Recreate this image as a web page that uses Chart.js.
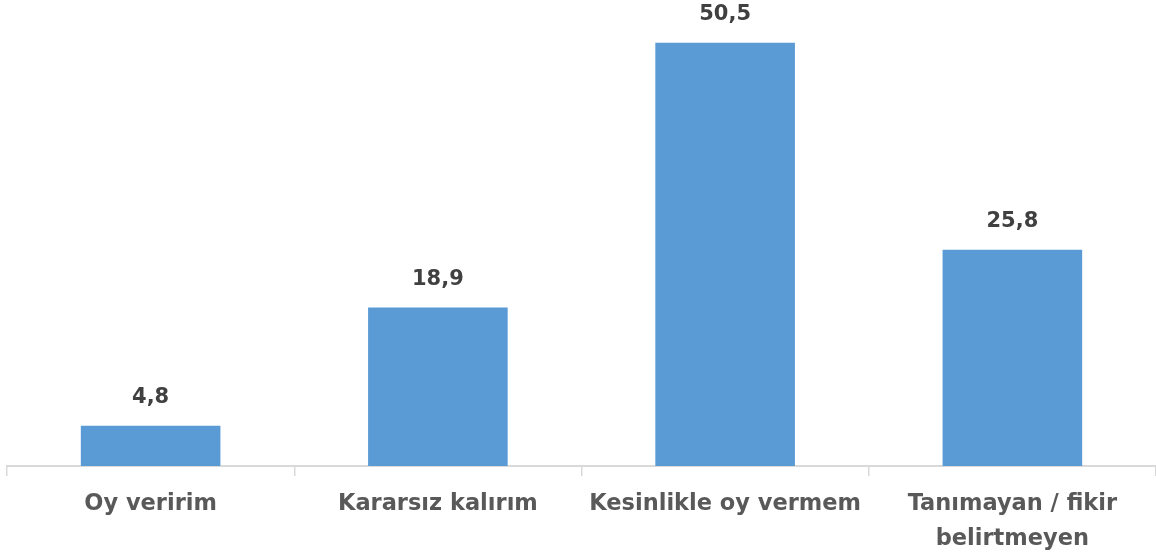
<!DOCTYPE html>
<html>
<head>
<meta charset="utf-8">
<script src="https://cdn.jsdelivr.net/npm/chart.js@4"></script>
<style>
  html, body { margin: 0; padding: 0; background: #fff; }
  #wrap { width: 1156px; height: 553px; position: relative; }
</style>
</head>
<body>
<div id="wrap"><canvas id="chart"></canvas></div>
<script>
const categories = ['Oy veririm', 'Kararsız kalırım', 'Kesinlikle oy vermem', ['Tanımayan / fikir', 'belirtmeyen']];
const values = [4.8, 18.9, 50.5, 25.8];
const valueLabels = ['4,8', '18,9', '50,5', '25,8'];

const FONT = '"DejaVu Sans", sans-serif';

// value text above each bar, Turkish decimal comma
const barValues = {
  id: 'barValues',
  afterDatasetsDraw(chart) {
    const ctx = chart.ctx;
    const meta = chart.getDatasetMeta(0);
    ctx.save();
    ctx.font = 'bold 21px ' + FONT;
    ctx.fillStyle = '#404040';
    ctx.textAlign = 'center';
    ctx.textBaseline = 'middle';
    meta.data.forEach((bar, i) => {
      ctx.fillText(valueLabels[i], bar.x, bar.y - 28);
    });
    ctx.restore();
  }
};

new Chart(document.getElementById('chart'), {
  type: 'bar',
  data: {
    labels: categories,
    datasets: [{
      data: values,
      backgroundColor: '#5B9BD5',
      barPercentage: 0.486,
      categoryPercentage: 1
    }]
  },
  options: {
    responsive: true,
    maintainAspectRatio: false,
    animation: false,
    layout: { padding: { left: 7, right: 0, top: 5, bottom: 0 } },
    plugins: { legend: { display: false }, tooltip: { enabled: false } },
    scales: {
      x: {
        grid: { drawOnChartArea: false, tickLength: 10, color: '#D9D9D9', lineWidth: 1.5, offset: true },
        border: { color: '#D9D9D9', width: 2 },
        ticks: {
          color: '#595959',
          padding: 11,
          maxRotation: 0,
          autoSkip: false,
          font: { family: FONT, size: 22.5, weight: 'bold', lineHeight: 1.56 }
        },
        afterFit(scale) { scale.height = 87; }
      },
      y: {
        display: false,
        min: 0,
        max: 55
      }
    }
  },
  plugins: [barValues]
});
</script>
</body>
</html>
